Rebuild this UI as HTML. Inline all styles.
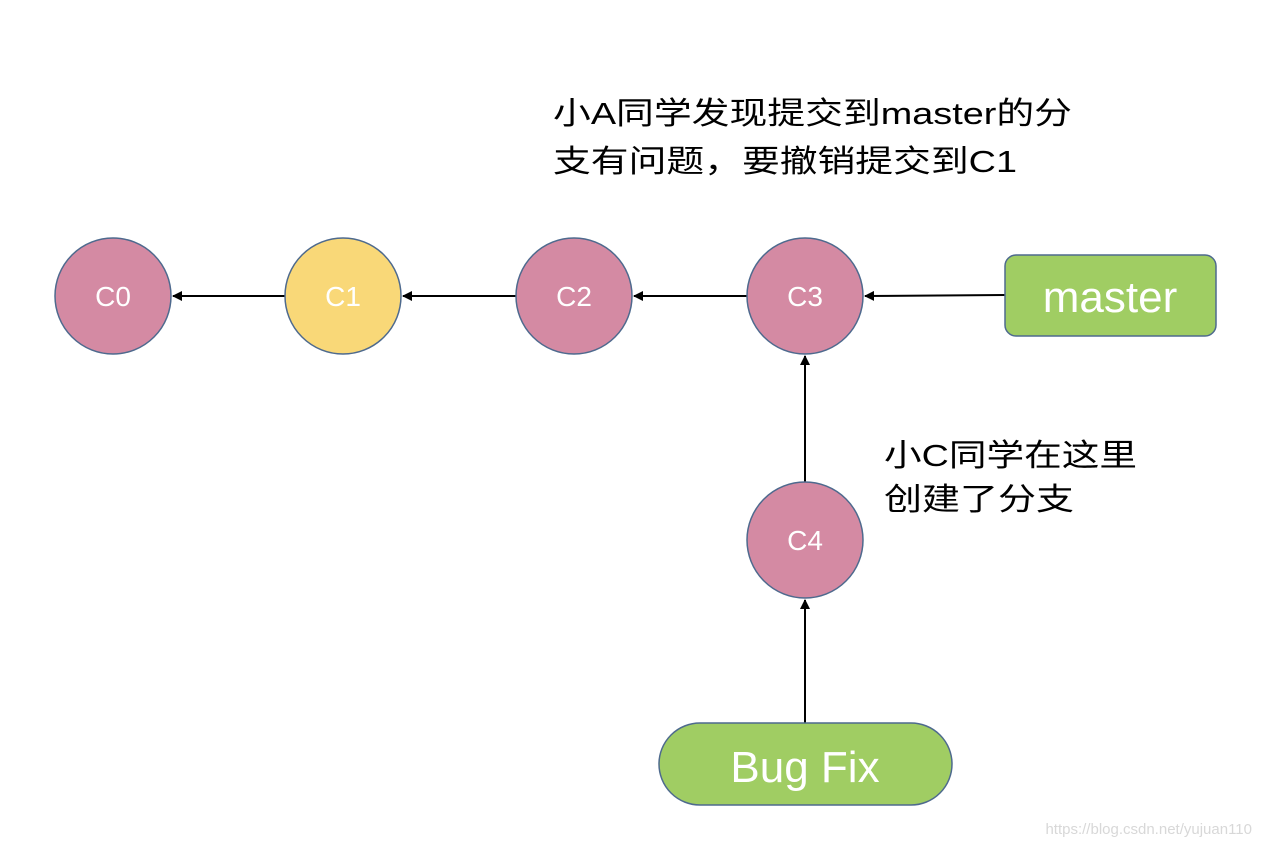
<!DOCTYPE html>
<html><head><meta charset="utf-8"><style>
html,body{margin:0;padding:0;background:#fff}
svg{display:block}
text{font-family:"Liberation Sans","Noto Sans CJK SC",sans-serif}
</style></head><body>
<svg width="1262" height="844" viewBox="0 0 1262 844" xmlns="http://www.w3.org/2000/svg">
<defs><marker id="a" markerWidth="10" markerHeight="10" refX="9" refY="5" orient="auto" markerUnits="userSpaceOnUse"><path d="M0,0 L10,5 L0,10 z" fill="#000"/></marker></defs>
<g stroke="#000" stroke-width="2" fill="none" marker-end="url(#a)">
<line x1="285" y1="296" x2="173" y2="296"/>
<line x1="516" y1="296" x2="403" y2="296"/>
<line x1="747" y1="296" x2="634" y2="296"/>
<line x1="1005" y1="295" x2="865" y2="296"/>
<line x1="805" y1="482" x2="805" y2="356"/>
<line x1="805" y1="723" x2="805" y2="600"/>
</g>
<g stroke="#4e6a8e" stroke-width="1.5">
<circle cx="113" cy="296" r="58" fill="#d48aa3"/>
<circle cx="343" cy="296" r="58" fill="#f9d878"/>
<circle cx="574" cy="296" r="58" fill="#d48aa3"/>
<circle cx="805" cy="296" r="58" fill="#d48aa3"/>
<circle cx="805" cy="540" r="58" fill="#d48aa3"/>
<rect x="1005" y="255" width="211" height="81" rx="11" fill="#a0cd63"/>
<rect x="659" y="723" width="293" height="82" rx="41" fill="#a0cd63"/>
</g>
<g fill="#fff" font-size="28" text-anchor="middle">
<text x="113" y="306">C0</text>
<text x="343" y="306">C1</text>
<text x="574" y="306">C2</text>
<text x="805" y="306">C3</text>
<text x="805" y="550">C4</text>
<text x="1110" y="312" font-size="44">master</text>
<text x="805" y="782" font-size="44">Bug Fix</text>
</g>
<g fill="#000" font-size="31">
<text x="553" y="124" textLength="519" lengthAdjust="spacingAndGlyphs">小A同学发现提交到master的分</text>
<text x="553" y="172" textLength="464" lengthAdjust="spacingAndGlyphs">支有问题，要撤销提交到C1</text>
<text x="884" y="466" textLength="253" lengthAdjust="spacingAndGlyphs">小C同学在这里</text>
<text x="884" y="510" textLength="190" lengthAdjust="spacingAndGlyphs">创建了分支</text>
</g>
<text x="1252" y="834" font-size="15" fill="#d8d8d8" text-anchor="end">https://blog.csdn.net/yujuan110</text>
</svg>
</body></html>
